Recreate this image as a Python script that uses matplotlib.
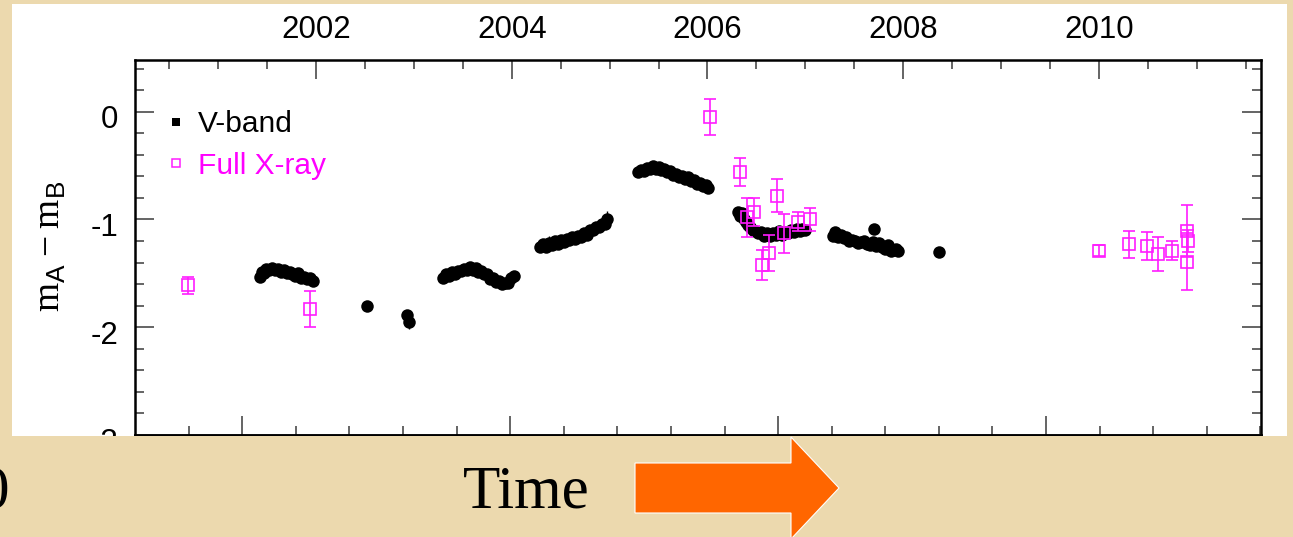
import matplotlib
matplotlib.use("Agg")
import matplotlib.pyplot as plt
from matplotlib.lines import Line2D
from matplotlib.patches import Rectangle, Polygon
from matplotlib.ticker import MultipleLocator, NullFormatter
from matplotlib.transforms import ScaledTranslation

plt.rcParams['font.family'] = ['Liberation Sans', 'DejaVu Sans']
plt.rcParams['mathtext.fontset'] = 'custom'
plt.rcParams['mathtext.rm'] = 'Liberation Serif'
plt.rcParams['mathtext.sf'] = 'Liberation Sans'

# V-band flux ratio (m_A - m_B) vs decimal year, one list per observing season
season_2001_t = [2001.43, 2001.45, 2001.47, 2001.49, 2001.52, 2001.55, 2001.58, 2001.61, 2001.64, 2001.67,
                 2001.70, 2001.73, 2001.76, 2001.79, 2001.82, 2001.85, 2001.88, 2001.91, 2001.94, 2001.97]
season_2001_m = [-1.53, -1.49, -1.50, -1.46, -1.47, -1.45, -1.47, -1.46, -1.49, -1.47,
                 -1.50, -1.49, -1.51, -1.52, -1.50, -1.54, -1.53, -1.55, -1.54, -1.57]

season_2002_t = [2002.52, 2002.93, 2002.95]
season_2002_m = [-1.80, -1.89, -1.95]

season_2003_t = [2003.30, 2003.33, 2003.36, 2003.39, 2003.42, 2003.45, 2003.48, 2003.51, 2003.54, 2003.57,
                 2003.60, 2003.63, 2003.66, 2003.69, 2003.72, 2003.75, 2003.78, 2003.81, 2003.84, 2003.87,
                 2003.90, 2003.93, 2003.96, 2003.99, 2004.02]
season_2003_m = [-1.54, -1.51, -1.52, -1.49, -1.51, -1.48, -1.48, -1.46, -1.47, -1.44,
                 -1.47, -1.45, -1.49, -1.48, -1.51, -1.51, -1.55, -1.54, -1.58, -1.57,
                 -1.60, -1.59, -1.59, -1.54, -1.52]

season_2004_t = [2004.29, 2004.32, 2004.35, 2004.38, 2004.41, 2004.44, 2004.47, 2004.50, 2004.53, 2004.56,
                 2004.59, 2004.62, 2004.65, 2004.68, 2004.71, 2004.74, 2004.77, 2004.80, 2004.83, 2004.86,
                 2004.89, 2004.92, 2004.95, 2004.97]
season_2004_m = [-1.26, -1.23, -1.26, -1.22, -1.24, -1.20, -1.23, -1.19, -1.21, -1.18,
                 -1.19, -1.16, -1.18, -1.15, -1.16, -1.13, -1.14, -1.10, -1.10, -1.07,
                 -1.07, -1.04, -1.04, -1.00]

season_2005_t = [2005.29, 2005.32, 2005.35, 2005.38, 2005.41, 2005.44, 2005.47, 2005.50, 2005.53, 2005.56,
                 2005.59, 2005.62, 2005.65, 2005.68, 2005.71, 2005.74, 2005.77, 2005.80, 2005.83, 2005.86,
                 2005.89, 2005.92, 2005.95, 2005.98, 2006.01]
season_2005_m = [-0.56, -0.54, -0.55, -0.52, -0.53, -0.50, -0.53, -0.51, -0.54, -0.53,
                 -0.56, -0.55, -0.59, -0.58, -0.61, -0.60, -0.62, -0.61, -0.64, -0.63,
                 -0.67, -0.66, -0.69, -0.68, -0.71]

season_2006_t = [2006.31, 2006.33, 2006.35, 2006.37, 2006.39, 2006.41, 2006.43, 2006.46, 2006.49, 2006.52,
                 2006.55, 2006.58, 2006.61, 2006.64, 2006.67, 2006.70, 2006.73, 2006.76, 2006.79, 2006.82,
                 2006.85, 2006.88, 2006.91, 2006.94, 2006.97, 2007.00]
season_2006_m = [-0.93, -0.97, -0.94, -1.00, -1.02, -1.05, -1.07, -1.10, -1.11, -1.13,
                 -1.12, -1.15, -1.13, -1.15, -1.13, -1.14, -1.11, -1.14, -1.12, -1.13,
                 -1.10, -1.12, -1.09, -1.11, -1.09, -1.10]

season_2007_t = [2007.28, 2007.30, 2007.33, 2007.36, 2007.39, 2007.42, 2007.45, 2007.48, 2007.51, 2007.54,
                 2007.57, 2007.60, 2007.63, 2007.66, 2007.69, 2007.72, 2007.75, 2007.78, 2007.81, 2007.84,
                 2007.87, 2007.90, 2007.93, 2007.95, 2007.70]
season_2007_m = [-1.15, -1.12, -1.16, -1.14, -1.17, -1.16, -1.20, -1.19, -1.20, -1.22,
                 -1.21, -1.20, -1.23, -1.24, -1.21, -1.25, -1.22, -1.26, -1.27, -1.24,
                 -1.29, -1.28, -1.27, -1.29, -1.085]

season_2008_t = [2008.37]
season_2008_m = [-1.30]

vband_t = (season_2001_t + season_2002_t + season_2003_t + season_2004_t
           + season_2005_t + season_2006_t + season_2007_t + season_2008_t)
vband_m = (season_2001_m + season_2002_m + season_2003_m + season_2004_m
           + season_2005_m + season_2006_m + season_2007_m + season_2008_m)
# typical V-band errors are smaller than the symbols; a few are larger
vband_err = [0.02] * len(vband_t)
vband_err[len(season_2001_t) + 2] = 0.07
vband_err[len(season_2001_t) + len(season_2002_t) + len(season_2003_t) + 3] = 0.07
vband_err[len(season_2001_t) + len(season_2002_t) + len(season_2003_t) + len(season_2004_t) - 1] = 0.08

# Chandra full-band X-ray flux ratios
xray_t = [2000.69, 2001.94, 2006.03, 2006.33, 2006.40, 2006.48, 2006.56, 2006.63, 2006.71, 2006.78,
          2006.92, 2007.05, 2010.00, 2010.31, 2010.49, 2010.60, 2010.75, 2010.90, 2010.91, 2010.90]
xray_m = [-1.61, -1.83, -0.05, -0.56, -0.98, -0.93, -1.42, -1.31, -0.78, -1.13,
          -1.02, -1.00, -1.29, -1.23, -1.25, -1.32, -1.29, -1.11, -1.20, -1.39]
xray_err = [0.08, 0.165, 0.17, 0.13, 0.18, 0.13, 0.14, 0.17, 0.155, 0.185,
            0.085, 0.11, 0.05, 0.125, 0.13, 0.155, 0.09, 0.24, 0.10, 0.26]

year_ticks = [2002, 2004, 2006, 2008, 2010]
jd_ticks = [2452000, 2453000, 2454000, 2455000]


def year_to_jd(y):
    return 2451545.0 + (y - 2000.0) * 365.25


def jd_to_year(jd):
    return 2000.0 + (jd - 2451545.0) / 365.25


W, H = 1293, 537
PARCH = '#ecd9ae'
MAGENTA = '#ff1cff'
ORANGE = '#ff6600'

fig = plt.figure(figsize=(W / 100, H / 100), dpi=100)
fig.patch.set_facecolor(PARCH)

# white slide panel behind the plot
fig.add_artist(Rectangle((12 / W, (H - 436) / H), (1287 - 12) / W, (436 - 4) / H,
                         transform=fig.transFigure, facecolor='white', edgecolor='none', zorder=0))

ax = fig.add_axes([135 / W, (H - 435) / H, (1261 - 135) / W, (435 - 60) / H])
ax.set_zorder(1)

ax.errorbar(vband_t, vband_m, yerr=vband_err, fmt='o', color='black', ms=9, mew=0,
            elinewidth=1.0, capsize=4.3, capthick=1.0, zorder=2)
ax.errorbar(xray_t, xray_m, yerr=xray_err, fmt='s', mfc='none', mec=MAGENTA, ecolor=MAGENTA,
            ms=8, mew=1.2, elinewidth=1.2, capsize=4.3, capthick=1.2, zorder=3)

ax.set_xlim(2000.151, 2011.655)
ax.set_ylim(-3.0, 0.48)

ax.xaxis.set_major_locator(MultipleLocator(2))
ax.xaxis.set_minor_locator(MultipleLocator(0.5))
ax.set_xticks(year_ticks)
ax.set_xticklabels([str(y) for y in year_ticks])
ax.yaxis.set_major_locator(MultipleLocator(1))
ax.yaxis.set_minor_locator(MultipleLocator(0.2))
ax.set_yticks([0, -1, -2, -3])
ax.set_yticklabels(['0', '-1', '-2', '-3'])

tick_col = '#3a3a3a'
ax.tick_params(axis='x', which='both', direction='in', bottom=False, top=True,
               labelbottom=False, labeltop=True, color=tick_col)
ax.tick_params(axis='y', which='both', direction='in', left=True, right=True,
               labelright=False, color=tick_col)
ax.tick_params(which='major', length=13.5, width=1.1, labelsize=22.5, pad=10.5)
ax.tick_params(which='minor', length=6.8, width=1.1)
ax.tick_params(axis='y', which='major', pad=12)
for sp in ax.spines.values():
    sp.set_linewidth(1.8)
    sp.set_color('black')

# y tick labels sit a little below their ticks
for lab in ax.get_yticklabels():
    lab.set_transform(lab.get_transform() + ScaledTranslation(0, -0.05, fig.dpi_scale_trans))

# Julian date axis along the bottom
jd_ax = ax.secondary_xaxis('bottom', functions=(year_to_jd, jd_to_year))
jd_ax.set_xticks(jd_ticks)
jd_ax.xaxis.set_minor_locator(MultipleLocator(200))
jd_ax.xaxis.set_major_formatter(NullFormatter())
jd_ax.tick_params(which='both', direction='in', color=tick_col, width=1.1)
jd_ax.tick_params(which='major', length=13.5)
jd_ax.tick_params(which='minor', length=6.8)
jd_ax.spines['bottom'].set_linewidth(1.8)

fig.text(50 / W, 1 - 246 / H, r'$\mathrm{m}_{\mathsf{A}}-\mathrm{m}_{\mathsf{B}}$',
         rotation=90, ha='center', va='center', fontsize=27)

handles = [Line2D([], [], ls='none', marker='s', color='black', ms=6, mew=0),
           Line2D([], [], ls='none', marker='s', mfc='none', mec=MAGENTA, ms=6, mew=1.1)]
leg = ax.legend(handles, ['V-band', 'Full X-ray'], loc='upper left',
                bbox_to_anchor=((164 - 135) / (1261 - 135), 0.866), frameon=False,
                fontsize=21.5, handlelength=0.8, handletextpad=0.35, labelspacing=0.45,
                borderpad=0, borderaxespad=0)
leg.get_texts()[1].set_color('#ff00ff')

# parchment strip covering the lower part of the slide
fig.add_artist(Rectangle((0, 0), 1, (H - 436) / H, transform=fig.transFigure,
                         facecolor=PARCH, edgecolor='none', zorder=3))

fig.text(526 / W, (H - 508) / H, 'Time', family='Liberation Serif', fontsize=44,
         ha='center', va='baseline', zorder=4)
fig.text(9 / W, (H - 508) / H, '0', family='Liberation Serif', fontsize=44,
         ha='right', va='baseline', zorder=4)

arrow_px = [(635, 463), (791, 463), (791, 437), (839, 488), (791, 539), (791, 513), (635, 513)]
fig.add_artist(Polygon([(x / W, 1 - y / H) for x, y in arrow_px], closed=True,
                       transform=fig.transFigure, facecolor=ORANGE, edgecolor='white',
                       linewidth=0.8, zorder=4))

fig.savefig('out.png', dpi=100, facecolor=fig.get_facecolor())
